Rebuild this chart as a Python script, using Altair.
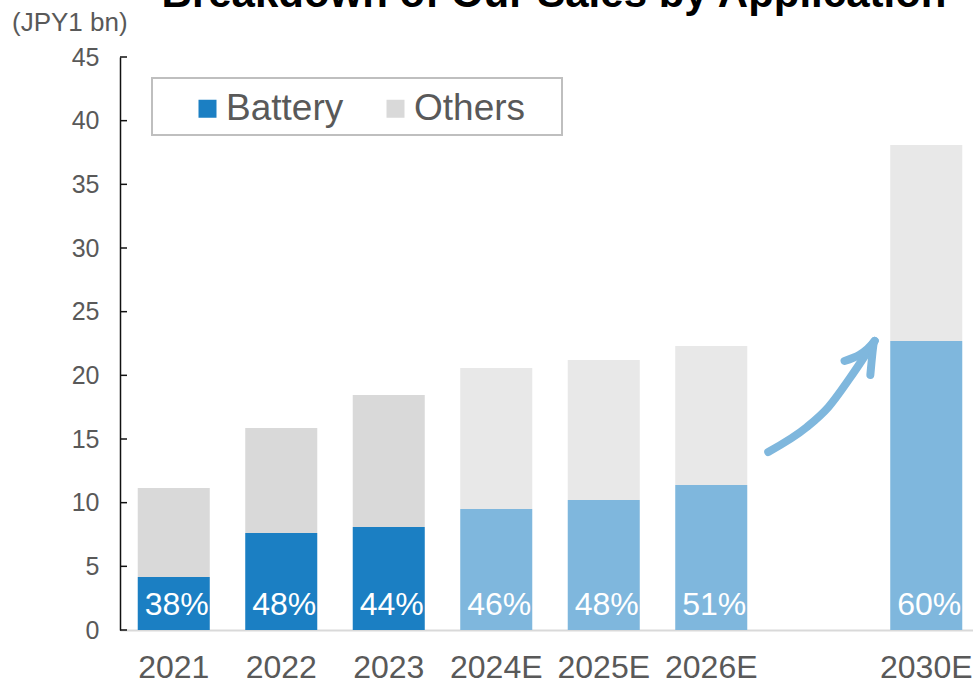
import altair as alt
import pandas as pd

# ---- data ----
years = ["2021", "2022", "2023", "2024E", "2025E", "2026E", "2030E"]
battery = [4.16, 7.62, 8.09, 9.50, 10.21, 11.39, 22.70]
others = [6.99, 8.24, 10.37, 11.08, 10.99, 10.91, 15.39]
pct_labels = ["38%", "48%", "44%", "46%", "48%", "51%", "60%"]
is_estimate = [False, False, False, True, True, True, True]
x_domain = ["2021", "2022", "2023", "2024E", "2025E", "2026E", "gap", "2030E"]
y_ticks = [0, 5, 10, 15, 20, 25, 30, 35, 40, 45]

# growth arrow annotation (slot units on x, JPY bn on y)
arrow_x = [6.03, 6.39, 6.59, 6.79, 7.02, 6.74, 7.02, 6.98]
arrow_y = [13.98, 15.94, 17.51, 19.79, 22.70, 21.13, 22.70, 20.03]
arrow_part = ["shaft", "shaft", "shaft", "shaft", "shaft", "head", "head", "head"]
arrow_order = [0, 1, 2, 3, 4, 0, 1, 2]

title_text = "Breakdown of Our Sales by Application"
unit_text = "(JPY1 bn)"

FONT = "Liberation Sans"
GREY_TXT = "#595959"
PLOT_W = 853
PLOT_H = 573
X_RANGE = 860
NO_FRAME = alt.ViewBackground(stroke="transparent", strokeWidth=0)

rows = []
for i, y in enumerate(years):
    suffix = "_E" if is_estimate[i] else ""
    rows.append({"year": y, "key": "Battery" + suffix, "value": battery[i], "ord": 0})
    rows.append({"year": y, "key": "Others" + suffix, "value": others[i], "ord": 1})
bars_df = pd.DataFrame(rows)
pct_df = pd.DataFrame({"year": years, "label": pct_labels, "zero": [0] * len(years)})
ticks_df = pd.DataFrame({"v": y_ticks})
arrow_df = pd.DataFrame({"x": arrow_x, "y": arrow_y, "part": arrow_part, "o": arrow_order})

x_scale = alt.Scale(domain=x_domain, range=[0, X_RANGE], paddingInner=0.33, paddingOuter=0.165)
y_scale = alt.Scale(domain=[0, 45], nice=False, zero=True)

x_axis = alt.Axis(
    title=None, ticks=False, tickSize=0, labelFontSize=32, labelColor=GREY_TXT,
    labelPadding=22, labelFont=FONT, labelAngle=0, domainColor="#D9D9D9", domainWidth=2,
    labelExpr="datum.label == 'gap' ? '' : datum.label", grid=False,
)
y_axis = alt.Axis(
    title=None, values=y_ticks, ticks=False, tickSize=0, labelFontSize=25,
    labelColor=GREY_TXT, labelPadding=21, labelFont=FONT, domainColor="#111111",
    domainWidth=1.5, grid=False, zindex=1,
)

box = alt.Chart(pd.DataFrame({"a": [0]})).mark_rect(
    fill="white", stroke="#BFBFBF", strokeWidth=2
).encode(
    x=alt.value(32), x2=alt.value(442), y=alt.value(21), y2=alt.value(78)
)

bars = alt.Chart(bars_df).mark_bar().encode(
    x=alt.X("year:N", scale=x_scale, axis=x_axis, sort=x_domain),
    y=alt.Y("value:Q", stack="zero", scale=y_scale, axis=y_axis),
    order=alt.Order("ord:Q"),
    color=alt.Color(
        "key:N",
        scale=alt.Scale(
            domain=["Battery", "Others", "Battery_E", "Others_E"],
            range=["#1B7FC3", "#D9D9D9", "#7FB7DD", "#E8E8E8"],
        ),
        legend=alt.Legend(
            values=["Battery", "Others"], title=None, orient="none",
            legendX=69, legendY=33, direction="horizontal",
            symbolType="square", symbolSize=324, symbolStrokeWidth=0,
            labelFontSize=37, labelColor=GREY_TXT, labelFont=FONT,
            labelOffset=0, columnPadding=33, padding=0,
        ),
    ),
)

pct = alt.Chart(pct_df).mark_text(
    color="white", fontSize=32, font=FONT, baseline="middle", dx=3, dy=-25
).encode(
    x=alt.X("year:N", scale=x_scale, sort=x_domain),
    y=alt.Y("zero:Q", scale=y_scale),
    text="label:N",
)

tick_rules = alt.Chart(ticks_df).mark_rule(color="#111111", strokeWidth=1.5).encode(
    y=alt.Y("v:Q", scale=y_scale), x=alt.value(0), x2=alt.value(7)
)

title_mark = alt.Chart(pd.DataFrame({"t": [title_text]})).mark_text(
    fontSize=42, fontWeight="bold", font=FONT, color="black",
    align="center", baseline="alphabetic"
).encode(text="t:N", x=alt.value(434), y=alt.value(-50))

unit_mark = alt.Chart(pd.DataFrame({"t": [unit_text]})).mark_text(
    fontSize=26, font=FONT, color=GREY_TXT, align="left", baseline="middle"
).encode(text="t:N", x=alt.value(-108), y=alt.value(-34))

main = alt.layer(box, bars, pct, tick_rules, title_mark, unit_mark).properties(view=NO_FRAME)

arrow = alt.Chart(arrow_df).mark_line(
    color="#7FB7DD", strokeWidth=8, strokeCap="round", strokeJoin="round",
    interpolate="monotone"
).encode(
    x=alt.X("x:Q", scale=alt.Scale(domain=[0, 8], range=[0, X_RANGE], nice=False, zero=False), axis=None),
    y=alt.Y("y:Q", scale=y_scale),
    detail="part:N",
    order="o:Q",
).properties(view=NO_FRAME)

chart = alt.layer(main, arrow).resolve_scale(x="independent").properties(
    width=PLOT_W, height=PLOT_H,
    autosize=alt.AutoSizeParams(type="none"),
    padding={"left": 120, "top": 57, "right": 0, "bottom": 53},
    view=NO_FRAME,
).configure_view(strokeWidth=0, stroke="transparent").configure(font=FONT)

chart.save("out.html", embed_options={"renderer": "svg", "actions": False})
